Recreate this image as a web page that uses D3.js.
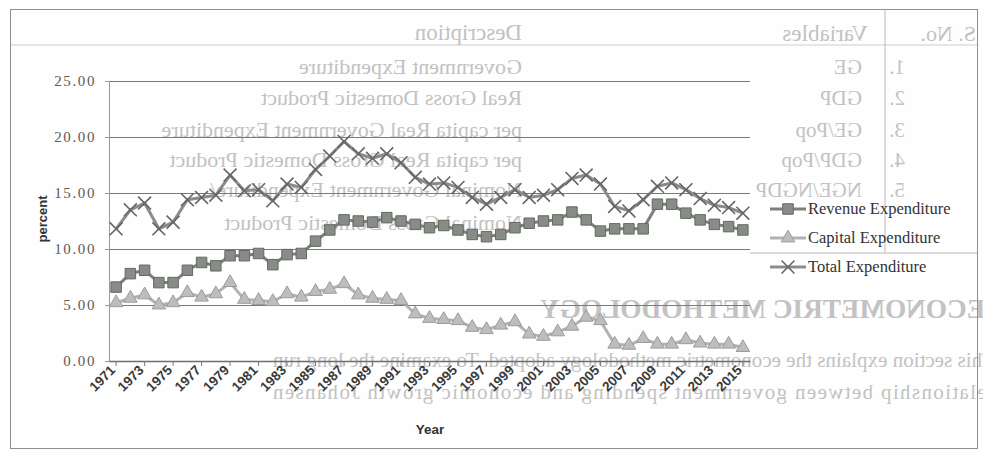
<!DOCTYPE html>
<html>
<head>
<meta charset="utf-8">
<script src="https://cdn.jsdelivr.net/npm/d3@7"></script>
<style>
  html, body { margin: 0; padding: 0; background: #ffffff; }
  svg { display: block; }
</style>
</head>
<body>
<svg id="chart" width="983" height="452"></svg>
<script>
// Government expenditure as percent, 1971-2015
const years = ["1971","1972","1973","1974","1975","1976","1977","1978","1979","1980",
  "1981","1982","1983","1984","1985","1986","1987","1988","1989","1990",
  "1991","1992","1993","1994","1995","1996","1997","1998","1999","2000",
  "2001","2002","2003","2004","2005","2006","2007","2008","2009","2010",
  "2011","2012","2013","2014","2015"];

const revenueExp = [6.6, 7.8, 8.1, 7.0, 7.0, 8.1, 8.8, 8.5, 9.4, 9.4,
  9.6, 8.6, 9.5, 9.6, 10.7, 11.7, 12.6, 12.5, 12.4, 12.8,
  12.5, 12.2, 11.9, 12.1, 11.7, 11.3, 11.1, 11.3, 11.9, 12.3,
  12.5, 12.6, 13.3, 12.6, 11.6, 11.8, 11.8, 11.8, 14.0, 14.0,
  13.2, 12.6, 12.2, 12.0, 11.7];

const capitalExp = [5.2, 5.6, 5.9, 5.0, 5.2, 6.1, 5.7, 6.0, 7.0, 5.5,
  5.4, 5.3, 6.0, 5.7, 6.2, 6.4, 6.9, 5.9, 5.6, 5.5,
  5.4, 4.2, 3.8, 3.7, 3.6, 3.0, 2.8, 3.2, 3.5, 2.4,
  2.2, 2.6, 3.1, 3.9, 3.6, 1.5, 1.4, 2.0, 1.5, 1.5,
  1.9, 1.6, 1.5, 1.5, 1.2];

const totalExp = [11.8, 13.5, 14.1, 11.8, 12.4, 14.4, 14.6, 14.8, 16.6, 15.2,
  15.3, 14.3, 15.8, 15.5, 17.1, 18.3, 19.6, 18.5, 18.1, 18.5,
  17.7, 16.4, 15.8, 15.9, 15.5, 14.6, 14.0, 14.6, 15.3, 14.6,
  14.8, 15.3, 16.3, 16.6, 15.8, 13.8, 13.4, 14.4, 15.6, 15.9,
  15.3, 14.5, 13.9, 13.7, 13.2];

const yTicks = [0, 5, 10, 15, 20, 25];
const xLabelYears = years.filter((d, i) => i % 2 === 0);
const seriesNames = ["Revenue Expenditure", "Capital Expenditure", "Total Expenditure"];
const yAxisTitle = "percent";
const xAxisTitle = "Year";

// Faint show-through of the reverse side of the printed page
const tableHeader = ["S. No.", "Variables", "Description"];
const tableNumbers = ["1.", "2.", "3.", "4.", "5."];
const tableVariables = ["GE", "GDP", "GE/Pop", "GDP/Pop", "NGE/NGDP"];
const tableDescriptions = ["Government Expenditure", "Real Gross Domestic Product",
  "per capita Real Government Expenditure", "per capita Real Gross Domestic Product",
  "Nominal Government Expenditure/", "Nominal Gross Domestic Product"];
const sectionHeading = "ECONOMETRIC METHODOLOGY";
const bodyLines = ["This section explains the econometric methodology adopted. To examine the long run",
  "relationship between government spending and economic growth Johansen"];

const W = 983, H = 452;
const svg = d3.select("#chart");
const serif = "'Liberation Serif', 'Times New Roman', serif";
const sans = "'Liberation Sans', Arial, sans-serif";

svg.append("rect").attr("width", W).attr("height", H).attr("fill", "#fefefe");

// ---- reverse-side show-through (mirrored horizontally) ----
const back = svg.append("g")
  .attr("transform", `translate(${W},0) scale(-1,1)`)
  .attr("fill", "#c2c2c2")
  .style("font-family", serif);

const rowBase = [74, 105, 137, 167, 197, 230];
back.append("text").attr("x", 7).attr("y", 41).attr("font-size", 22).text(tableHeader[0]);
back.append("text").attr("x", 115).attr("y", 41).attr("font-size", 23).text(tableHeader[1]);
back.append("text").attr("x", 461).attr("y", 40).attr("font-size", 23).text(tableHeader[2]);
tableNumbers.forEach((t, i) => back.append("text").attr("x", 78).attr("y", rowBase[i])
  .attr("font-size", 21).text(t));
tableVariables.forEach((t, i) => back.append("text").attr("x", 121).attr("y", rowBase[i])
  .attr("font-size", 21).text(t));
tableDescriptions.forEach((t, i) => back.append("text").attr("x", 461).attr("y", rowBase[i])
  .attr("font-size", 22).text(t));

back.append("text").attr("x", 443).attr("y", 318).attr("text-anchor", "end")
  .attr("font-size", 28).attr("font-weight", "bold")
  .attr("textLength", 445).attr("lengthAdjust", "spacingAndGlyphs").text(sectionHeading);
back.append("text").attr("x", -12).attr("y", 367).attr("font-size", 21)
  .attr("textLength", 722).attr("lengthAdjust", "spacingAndGlyphs").text(bodyLines[0]);
back.append("text").attr("x", -12).attr("y", 399).attr("font-size", 21)
  .attr("textLength", 722).attr("lengthAdjust", "spacing").text(bodyLines[1]);

const rules = svg.append("g").attr("fill", "none");
rules.append("line").attr("x1", 10).attr("x2", 978).attr("y1", 45).attr("y2", 45)
  .attr("stroke", "#cdcdcd");
rules.append("line").attr("x1", 885).attr("x2", 885).attr("y1", 10).attr("y2", 253)
  .attr("stroke", "#b9b9b9");
rules.append("line").attr("x1", 750).attr("x2", 978).attr("y1", 253).attr("y2", 253)
  .attr("stroke", "#b9b9b9");

// ---- chart frame ----
svg.append("rect").attr("x", 10.5).attr("y", 9.5).attr("width", 967).attr("height", 439)
  .attr("fill", "none").attr("stroke", "#8f8f8f");

// ---- scales ----
const plot = { left: 109, right: 750, top: 81, bottom: 361 };
const x = d3.scaleBand().domain(years).range([plot.left, plot.right]).padding(0);
const y = d3.scaleLinear().domain([0, 25]).range([plot.bottom, plot.top]);
const cx = d => x(d) + x.bandwidth() / 2;

// gridlines
svg.append("g").selectAll("line").data(yTicks.filter(v => v > 0)).join("line")
  .attr("x1", plot.left).attr("x2", plot.right)
  .attr("y1", d => y(d) + 0.5).attr("y2", d => y(d) + 0.5)
  .attr("stroke", "#7a7a7a").attr("stroke-width", 1);

// y axis
const yAxis = svg.append("g").attr("transform", `translate(${plot.left},0)`)
  .call(d3.axisLeft(y).tickValues(yTicks).tickFormat(d3.format(".2f")).tickSize(4).tickPadding(9));
yAxis.select(".domain").attr("stroke", "#9a9a9a");
yAxis.selectAll(".tick line").attr("stroke", "#9a9a9a");
yAxis.selectAll(".tick text").attr("font-family", serif).attr("font-size", 15)
  .attr("letter-spacing", "1.6px").attr("fill", "#5a5a5a");

// x axis
const xAxis = svg.append("g").attr("transform", `translate(0,${plot.bottom})`)
  .call(d3.axisBottom(x).tickValues(xLabelYears).tickSize(5).tickSizeOuter(0));
xAxis.select(".domain").attr("stroke", "#6e6e6e").attr("stroke-width", 1.3);
xAxis.selectAll(".tick line").attr("stroke", "#7a7a7a");
xAxis.selectAll(".tick text")
  .attr("font-family", sans).attr("font-weight", "bold").attr("font-size", 13.5)
  .attr("fill", "#3a3a3a")
  .attr("text-anchor", "end")
  .attr("x", 0).attr("y", 0).attr("dy", 0)
  .attr("transform", "translate(0,10) rotate(-45)");

// axis titles
svg.append("text")
  .attr("transform", `translate(47,219) rotate(-90)`)
  .attr("text-anchor", "middle").attr("font-family", sans).attr("font-weight", "bold")
  .attr("font-size", 13).attr("fill", "#333").text(yAxisTitle);
svg.append("text").attr("x", 430).attr("y", 434).attr("text-anchor", "middle")
  .attr("font-family", sans).attr("font-weight", "bold").attr("font-size", 13.5)
  .attr("fill", "#333").text(xAxisTitle);

// ---- series ----
const series = [
  { name: seriesNames[1], values: capitalExp, line: "#b2b2b2", fill: "#bdbdbd", stroke: "#9c9c9c",
    symbol: d3.symbolTriangle, size: 80, filled: true },
  { name: seriesNames[0], values: revenueExp, line: "#7b807a", fill: "#878c86", stroke: "#646963",
    symbol: d3.symbolSquare, size: 110, filled: true },
  { name: seriesNames[2], values: totalExp, line: "#8b8b8b", fill: "none", stroke: "#666666",
    symbol: d3.symbolTimes, size: 110, filled: false }
];

const lineGen = d3.line().x((d, i) => cx(years[i])).y(d => y(d));

series.forEach(s => {
  const g = svg.append("g");
  g.append("path").datum(s.values).attr("d", lineGen)
    .attr("fill", "none").attr("stroke", s.line).attr("stroke-width", 3)
    .attr("stroke-linejoin", "round");
  g.selectAll("path.m").data(s.values).join("path").attr("class", "m")
    .attr("d", d3.symbol(s.symbol, s.size))
    .attr("transform", (d, i) => `translate(${cx(years[i])},${y(d)})`)
    .attr("fill", s.filled ? s.fill : "none")
    .attr("stroke", s.stroke).attr("stroke-width", s.filled ? 1 : 1.6);
});

// ---- legend ----
const legendY = [209, 238, 267];
seriesNames.forEach((name, i) => {
  const s = series.find(d => d.name === name);
  const yy = legendY[i];
  const g = svg.append("g");
  g.append("line").attr("x1", 770).attr("x2", 806).attr("y1", yy).attr("y2", yy)
    .attr("stroke", s.line).attr("stroke-width", 3);
  g.append("path").attr("d", d3.symbol(s.symbol, s.size))
    .attr("transform", `translate(788,${yy})`)
    .attr("fill", s.filled ? s.fill : "none")
    .attr("stroke", s.stroke).attr("stroke-width", s.filled ? 1 : 1.6);
  g.append("text").attr("x", 808).attr("y", yy + 5)
    .attr("font-family", serif).attr("font-size", 16.5).attr("fill", "#333")
    .text(s.name);
});
</script>
</body>
</html>
